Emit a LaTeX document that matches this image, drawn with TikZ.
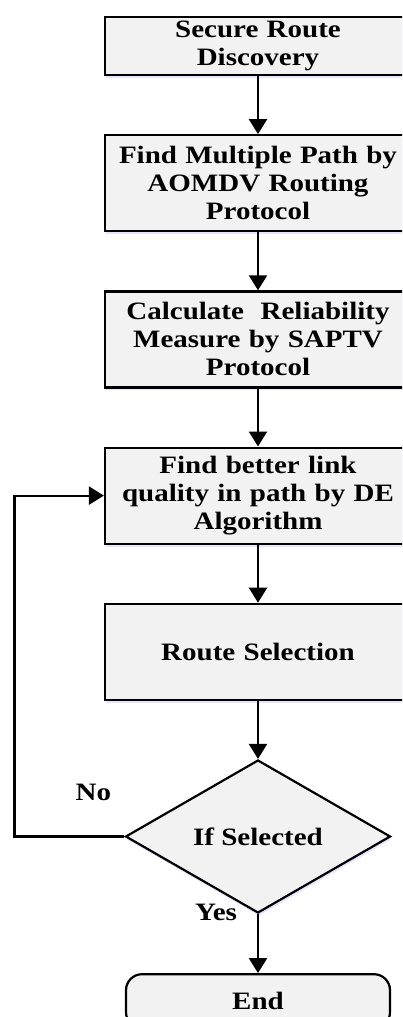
\documentclass[tikz,border=0pt]{standalone}
\usepackage{fontspec}
\setmainfont{Liberation Serif}[FakeStretch=1.16]
\usetikzlibrary{positioning,shapes.geometric,arrows.meta,shadows}

\begin{document}
\begin{tikzpicture}[
        font=\fontsize{25}{28}\selectfont\bfseries,
        stepbox/.style={draw, rectangle, fill=gray!10, line width=2.2pt,
            minimum width=306pt, minimum height=96pt, text width=290pt,
            align=center, inner sep=0pt,
            drop shadow={fill=blue!20!white, opacity=0.5, shadow xshift=1pt, shadow yshift=-3pt}},
        decision/.style={draw, diamond, fill=gray!10, line width=2.2pt,
            minimum width=265pt, minimum height=153pt, inner sep=0pt,
            drop shadow={fill=blue!20!white, opacity=0.5, shadow xshift=1pt, shadow yshift=-3pt}},
        terminal/.style={draw, rectangle, rounded corners=16pt, fill=gray!10, line width=2.2pt,
            minimum width=264pt, minimum height=54pt, inner sep=0pt},
        flow/.style={draw, line width=2.2pt, -{Triangle[length=15pt,width=18pt]}},
        node distance=58pt,
    ]
    \clip (0,0) rectangle (402pt,-1017pt);

    \node[stepbox, minimum height=58pt](discovery) at (258pt,-46pt){Secure Route\\Discovery};
    \node[stepbox, below=of discovery](multipath){Find Multiple Path by\\AOMDV Routing\\Protocol};
    \node[stepbox, below=of multipath](reliability){Calculate\ \ Reliability\\Measure by SAPTV\\Protocol};
    \node[stepbox, below=of reliability](linkquality){Find better link\\quality in path by DE\\Algorithm};
    \node[stepbox, below=of linkquality](selection){Route Selection};
    \node[decision, below=of selection](selected){If Selected};
    \node[terminal, below=59pt of selected](end){End};

    \draw[flow] (discovery) -- (multipath);
    \draw[flow] (multipath) -- (reliability);
    \draw[flow] (reliability) -- (linkquality);
    \draw[flow] (linkquality) -- (selection);
    \draw[flow] (selection) -- (selected);
    \draw[flow] (selected) -- (end);
    \draw[flow] (selected.west) -- ++(-110pt,0) |- (linkquality.west);

    \node (no) at ([xshift=-31pt,yshift=44pt]selected.west){No};
    \node (yes) at ([xshift=-42pt,yshift=2pt]selected.south){Yes};
\end{tikzpicture}
\end{document}
